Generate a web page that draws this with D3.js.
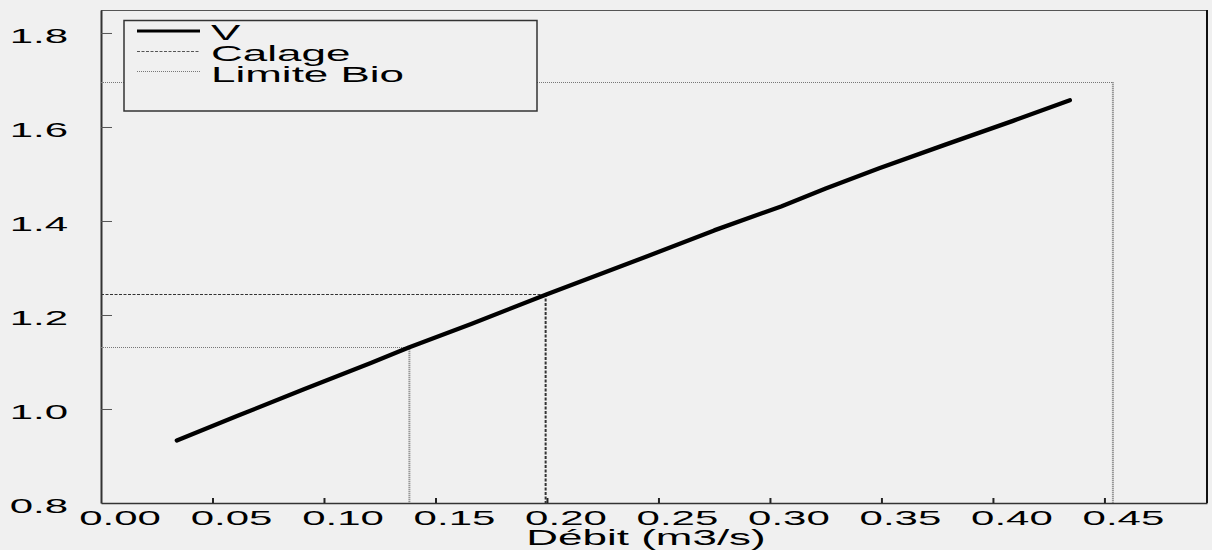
<!DOCTYPE html>
<html>
<head>
<meta charset="utf-8">
<script src="https://cdn.jsdelivr.net/npm/d3@7"></script>
<style>
  html, body { margin: 0; padding: 0; background: #f0f0f0; }
  svg { display: block; }
  text { font-family: "Liberation Sans", Arial, sans-serif; fill: #000; }
</style>
</head>
<body>
<svg id="chart" width="1212" height="550"></svg>
<script>
// ---- data ----
const debit = [0.034, 0.061, 0.091, 0.121, 0.138, 0.166, 0.200, 0.245, 0.275, 0.305, 0.325, 0.349, 0.379, 0.409, 0.4345];
const vitesse = [0.933, 0.985, 1.042, 1.098, 1.131, 1.181, 1.244, 1.325, 1.380, 1.431, 1.469, 1.512, 1.563, 1.613, 1.657];
const calageQ = [0.1994];
const calageV = [1.2447];
const limiteQ = [0.1383, 0.4538];
const limiteV = [1.1313, 1.6951];
const xTicks = [0.00, 0.05, 0.10, 0.15, 0.20, 0.25, 0.30, 0.35, 0.40, 0.45];
const yTicks = [0.8, 1.0, 1.2, 1.4, 1.6, 1.8];
const legendLabels = ["V", "Calage", "Limite Bio"];
const xTitle = "Débit (m3/s)";

// ---- layout ----
const L = 101, R = 1207, T = 10, B = 503;
const svg = d3.select("#chart");
svg.append("rect").attr("width", 1212).attr("height", 550).attr("fill", "#f0f0f0");

const x = d3.scaleLinear().domain([0, 0.496]).range([L, R]);
const y = d3.scaleLinear().domain([0.8, 1.8489]).range([B, T]);

// frame: top and right
svg.append("line").attr("x1", L).attr("x2", R).attr("y1", T + 0.5).attr("y2", T + 0.5)
  .attr("stroke", "#555").attr("stroke-width", 1);
svg.append("line").attr("x1", R).attr("x2", R).attr("y1", T).attr("y2", B)
  .attr("stroke", "#111").attr("stroke-width", 2);

// axes (ticks only, labels drawn separately with horizontal stretch)
const gx = svg.append("g").attr("transform", `translate(0,${B})`)
  .call(d3.axisBottom(x).tickValues(xTicks).tickSizeInner(-5).tickSizeOuter(0).tickFormat(""));
gx.select(".domain").attr("stroke", "#333").attr("stroke-width", 1.5);
gx.selectAll(".tick line").attr("stroke", "#222").attr("stroke-width", 2);
gx.selectAll(".tick").filter(d => d === 0).remove();

const gy = svg.append("g").attr("transform", `translate(${L},0)`)
  .call(d3.axisLeft(y).tickValues(yTicks).tickSizeInner(-11).tickSizeOuter(0).tickFormat(""));
gy.select(".domain").attr("stroke", "#333").attr("stroke-width", 2);
gy.selectAll(".tick line").attr("stroke", "#555").attr("stroke-width", 1);
gy.selectAll(".tick").filter(d => d === 0.8).select("line").remove();

// tick labels
svg.append("g").selectAll("text").data(xTicks).join("text")
  .attr("transform", d => `translate(${x(d) + 19},525) scale(2,1)`)
  .attr("text-anchor", "middle")
  .attr("font-size", 21)
  .text(d => d3.format(".2f")(d));

svg.append("g").selectAll("text").data(yTicks).join("text")
  .attr("transform", d => `translate(68,${y(d) + 10}) scale(2,1)`)
  .attr("text-anchor", "end")
  .attr("font-size", 21)
  .text(d => d3.format(".1f")(d));

// axis title
svg.append("text")
  .attr("transform", `translate(646,544.5) scale(2,1)`)
  .attr("text-anchor", "middle")
  .attr("font-size", 22)
  .text(xTitle);

// reference lines
function refLines(qs, vs, color, dash) {
  const g = svg.append("g");
  qs.forEach((q, i) => {
    const v = vs[i];
    g.append("line").attr("x1", x(0)).attr("x2", x(q))
      .attr("y1", Math.round(y(v)) + 0.5).attr("y2", Math.round(y(v)) + 0.5)
      .attr("stroke", color).attr("stroke-width", 1).attr("stroke-dasharray", dash);
    g.append("line").attr("x1", x(q)).attr("x2", x(q))
      .attr("y1", y(v)).attr("y2", y(0.8))
      .attr("stroke", color).attr("stroke-width", 2).attr("stroke-dasharray", dash);
  });
}
refLines(calageQ, calageV, "#333", "3,1.5");
refLines(limiteQ, limiteV, "#777", "1,1");

// V line
const pts = debit.map((q, i) => [q, vitesse[i]]);
svg.append("path")
  .datum(pts)
  .attr("d", d3.line().x(d => x(d[0])).y(d => y(d[1])))
  .attr("fill", "none").attr("stroke", "#000").attr("stroke-width", 4.3)
  .attr("stroke-linecap", "round").attr("stroke-linejoin", "round");

// legend
const lg = svg.append("g");
lg.append("rect").attr("x", 124).attr("y", 20.5).attr("width", 413).attr("height", 90.5)
  .attr("fill", "#f0f0f0").attr("stroke", "#333").attr("stroke-width", 1.5);
const legendStyles = [
  { color: "#000", width: 3, dash: null, ly: 31 },
  { color: "#555", width: 1, dash: "3,1.5", ly: 51.5 },
  { color: "#777", width: 1, dash: "1,1", ly: 71.5 }
];
legendLabels.forEach((lab, i) => {
  const s = legendStyles[i];
  lg.append("line").attr("x1", 137).attr("x2", 200).attr("y1", s.ly).attr("y2", s.ly)
    .attr("stroke", s.color).attr("stroke-width", s.width)
    .attr("stroke-dasharray", s.dash);
  lg.append("text")
    .attr("transform", `translate(211,${40 + i * 21}) scale(2,1)`)
    .attr("font-size", 22)
    .text(lab);
});
</script>
</body>
</html>
